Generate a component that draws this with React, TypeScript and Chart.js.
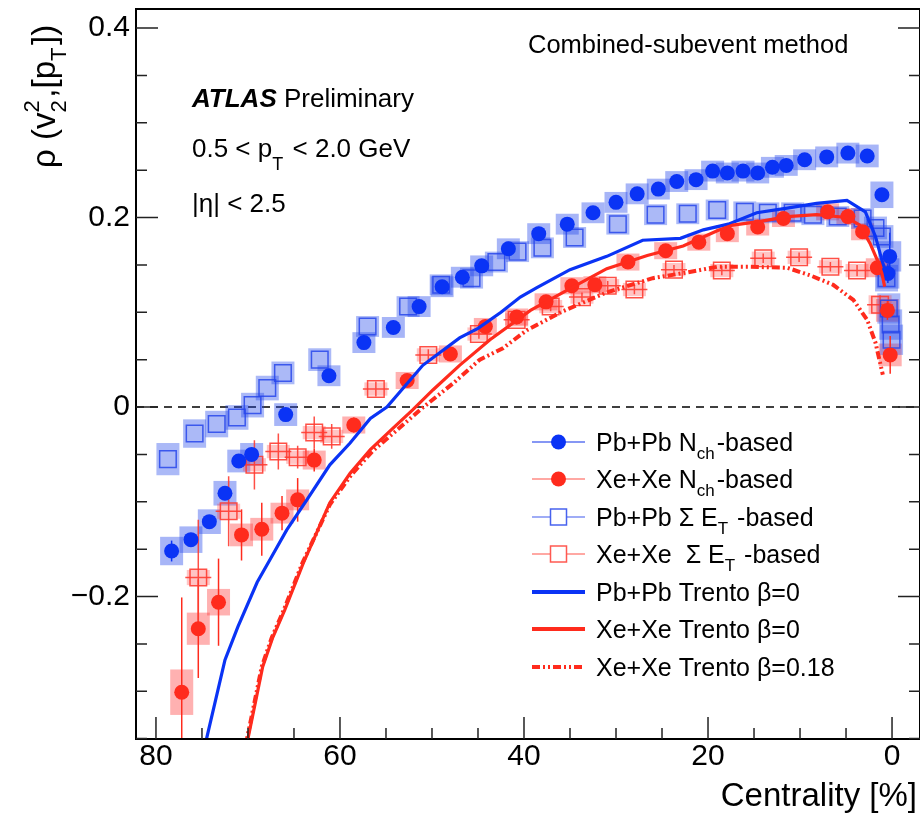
import React, { useEffect, useRef } from "react";
import { Chart, registerables } from "chart.js";
Chart.register(...registerables);

const FONT = '"Liberation Sans", Arial, Helvetica, sans-serif';
const BLUE = "#0a33f5";
const RED = "#ff2b1d";

// ---------------- data (centrality %, rho) ----------------
const pbNchX = [78.3, 76.2, 74.2, 72.5, 71.0, 69.6, 65.9, 61.2, 57.4, 54.2, 51.4, 48.9, 46.7, 44.6, 41.7, 38.4, 35.3, 32.5, 30.0, 27.7, 25.4, 23.4, 21.3, 19.5, 17.9, 16.2, 14.6, 13.0, 11.5, 9.5, 7.1, 4.8, 2.7, 1.1, 0.25, 0.45];
const pbNchY = [-0.152, -0.140, -0.121, -0.091, -0.057, -0.050, -0.008, 0.033, 0.068, 0.084, 0.106, 0.127, 0.137, 0.149, 0.167, 0.183, 0.193, 0.205, 0.216, 0.225, 0.230, 0.238, 0.240, 0.249, 0.247, 0.249, 0.247, 0.253, 0.255, 0.261, 0.264, 0.268, 0.265, 0.224, 0.159, 0.141];
const pbNchSys = [0.015, 0.014, 0.013, 0.013, 0.012, 0.012, 0.012, 0.011, 0.011, 0.011, 0.011, 0.011, 0.011, 0.011, 0.011, 0.011, 0.011, 0.011, 0.011, 0.011, 0.011, 0.011, 0.011, 0.011, 0.011, 0.011, 0.011, 0.011, 0.011, 0.011, 0.011, 0.011, 0.012, 0.014, 0.016, 0.016];
const pbNchStat = [0.011, 0.006, 0.004, 0.004, 0.003, 0.003, 0.003, 0.002, 0.002, 0.002, 0.002, 0.002, 0.002, 0.002, 0.002, 0.002, 0.002, 0.002, 0.002, 0.002, 0.002, 0.002, 0.002, 0.002, 0.002, 0.002, 0.002, 0.002, 0.002, 0.002, 0.002, 0.003, 0.004, 0.006, 0.025, 0.01];

const xeNchX = [77.2, 75.4, 73.2, 70.7, 68.5, 66.3, 64.6, 62.8, 58.5, 52.7, 48.0, 44.2, 40.8, 37.6, 34.8, 32.3, 28.7, 24.6, 21.0, 17.9, 14.6, 11.8, 7.0, 4.8, 3.2, 1.6, 0.5, 0.2];
const xeNchY = [-0.301, -0.234, -0.206, -0.135, -0.129, -0.112, -0.098, -0.056, -0.019, 0.028, 0.056, 0.085, 0.095, 0.111, 0.128, 0.129, 0.153, 0.165, 0.174, 0.183, 0.190, 0.199, 0.206, 0.201, 0.185, 0.147, 0.102, 0.055];
const xeNchSys = [0.024, 0.017, 0.014, 0.012, 0.012, 0.011, 0.011, 0.01, 0.009, 0.009, 0.009, 0.009, 0.009, 0.009, 0.009, 0.009, 0.009, 0.009, 0.009, 0.009, 0.009, 0.009, 0.009, 0.009, 0.009, 0.01, 0.012, 0.012];
const xeNchStat = [0.10, 0.052, 0.046, 0.027, 0.028, 0.018, 0.023, 0.012, 0.008, 0.005, 0.004, 0.004, 0.004, 0.004, 0.004, 0.004, 0.004, 0.004, 0.004, 0.004, 0.004, 0.004, 0.004, 0.005, 0.006, 0.008, 0.01, 0.02];

const pbEtX = [78.7, 75.8, 73.4, 71.2, 69.5, 67.9, 66.2, 62.2, 57.0, 52.6, 49.0, 45.7, 43.0, 40.7, 38.0, 34.5, 29.8, 25.7, 22.2, 19.0, 16.0, 13.5, 10.8, 8.6, 5.9, 3.2, 1.8, 1.1, 0.6, 0.35, 0.15, 0.05];
const pbEtY = [-0.055, -0.028, -0.018, -0.011, 0.002, 0.020, 0.036, 0.050, 0.085, 0.106, 0.129, 0.136, 0.153, 0.164, 0.168, 0.179, 0.193, 0.203, 0.204, 0.208, 0.206, 0.205, 0.205, 0.203, 0.201, 0.199, 0.189, 0.180, 0.136, 0.104, 0.087, 0.071];
const pbEtSys = [0.017, 0.015, 0.014, 0.013, 0.013, 0.013, 0.012, 0.012, 0.011, 0.011, 0.011, 0.011, 0.011, 0.011, 0.011, 0.011, 0.011, 0.011, 0.011, 0.011, 0.011, 0.011, 0.011, 0.011, 0.011, 0.011, 0.012, 0.012, 0.014, 0.016, 0.016, 0.016];

const xeEtX = [75.4, 72.1, 69.3, 66.7, 64.6, 62.8, 60.9, 56.1, 50.4, 44.9, 40.8, 37.1, 33.7, 30.9, 28.0, 23.7, 18.5, 14.0, 10.1, 6.7, 3.8, 1.3];
const xeEtY = [-0.180, -0.110, -0.061, -0.047, -0.053, -0.027, -0.031, 0.019, 0.055, 0.077, 0.092, 0.106, 0.116, 0.128, 0.124, 0.145, 0.144, 0.157, 0.158, 0.148, 0.144, 0.108];
const xeEtSys = [0.008, 0.008, 0.007, 0.007, 0.007, 0.007, 0.007, 0.007, 0.007, 0.007, 0.007, 0.007, 0.007, 0.007, 0.007, 0.007, 0.007, 0.007, 0.007, 0.007, 0.007, 0.01];
const xeEtStat = [0.061, 0.037, 0.026, 0.019, 0.012, 0.017, 0.013, 0.008, 0.006, 0.005, 0.005, 0.005, 0.005, 0.005, 0.005, 0.005, 0.005, 0.005, 0.005, 0.005, 0.006, 0.01];

const pbTrentoX = [75.6, 74.5, 72.5, 71.1, 69.0, 67.6, 65.8, 63.6, 61.1, 58.9, 56.7, 54.9, 51.0, 47.0, 45.0, 42.5, 40.4, 38.6, 35.0, 31.0, 27.1, 23.0, 20.5, 17.8, 14.7, 11.4, 8.2, 4.9, 2.9, 1.8, 1.1, 0.5];
const pbTrentoY = [-0.400, -0.350, -0.267, -0.232, -0.185, -0.161, -0.130, -0.098, -0.061, -0.038, -0.012, 0.000, 0.044, 0.073, 0.083, 0.100, 0.116, 0.126, 0.145, 0.159, 0.176, 0.178, 0.187, 0.193, 0.205, 0.210, 0.215, 0.218, 0.206, 0.180, 0.155, 0.137];

const xeTrentoX = [70.6, 70.0, 68.4, 67.3, 66.0, 64.0, 61.1, 58.9, 56.7, 54.2, 52.1, 49.9, 47.0, 43.7, 39.3, 35.0, 31.0, 26.6, 22.7, 19.0, 17.3, 14.3, 11.4, 8.2, 4.9, 3.5, 2.4, 1.6, 1.1, 0.8];
const xeTrentoY = [-0.400, -0.350, -0.274, -0.243, -0.214, -0.165, -0.101, -0.070, -0.045, -0.022, -0.003, 0.018, 0.044, 0.071, 0.102, 0.125, 0.146, 0.160, 0.170, 0.186, 0.192, 0.196, 0.201, 0.203, 0.200, 0.192, 0.173, 0.155, 0.141, 0.127];

const xeTrento18X = [70.7, 70.1, 68.5, 67.4, 66.1, 64.1, 61.1, 58.8, 56.5, 54.0, 51.3, 47.7, 44.8, 42.3, 39.7, 35.8, 31.0, 26.0, 22.3, 19.0, 15.4, 11.4, 8.9, 6.4, 4.2, 2.7, 1.8, 1.0];
const xeTrento18Y = [-0.400, -0.350, -0.274, -0.243, -0.214, -0.165, -0.103, -0.072, -0.047, -0.026, -0.003, 0.025, 0.050, 0.062, 0.081, 0.101, 0.121, 0.136, 0.142, 0.148, 0.148, 0.147, 0.139, 0.129, 0.113, 0.092, 0.068, 0.034];

const xTickLabels = [80, 60, 40, 20, 0];
const yTickLabels = [-0.2, 0, 0.2, 0.4];
const legendLabels = [
  "Pb+Pb N_{ch}-based",
  "Xe+Xe N_{ch}-based",
  "Pb+Pb Σ E_{T} -based",
  "Xe+Xe  Σ E_{T} -based",
  "Pb+Pb Trento β=0",
  "Xe+Xe Trento β=0",
  "Xe+Xe Trento β=0.18",
];
const xTitle = "Centrality [%]";
const yTitle = "ρ (v_{2}^{2},[p_{T}])";

// ---------------- helpers ----------------
const pts = (xs: number[], ys: number[]) => xs.map((x, i) => ({ x, y: ys[i] }));

function drawRich(ctx: CanvasRenderingContext2D, text: string, x: number, y: number, size: number, subDy = 0.3, supDy = 0.45, weight = "") {
  const tokens: { t: string; s: string }[] = [];
  let i = 0;
  let buf = "";
  while (i < text.length) {
    const c = text[i];
    if ((c === "_" || c === "^") && text[i + 1] === "{") {
      if (buf) { tokens.push({ t: "n", s: buf }); buf = ""; }
      const end = text.indexOf("}", i + 2);
      tokens.push({ t: c === "_" ? "sub" : "sup", s: text.slice(i + 2, end) });
      i = end + 1;
    } else { buf += c; i++; }
  }
  if (buf) tokens.push({ t: "n", s: buf });
  let cx = x;
  const small = Math.round(size * 0.68);
  for (let k = 0; k < tokens.length; k++) {
    const tk = tokens[k];
    if (tk.t === "n") {
      ctx.font = `${weight}${size}px ${FONT}`;
      ctx.fillText(tk.s, cx, y);
      cx += ctx.measureText(tk.s).width;
    } else {
      ctx.font = `${small}px ${FONT}`;
      const dy = tk.t === "sub" ? size * subDy : -size * supDy;
      ctx.fillText(tk.s, cx, y + dy);
      let w = ctx.measureText(tk.s).width;
      const nx = tokens[k + 1];
      if (tk.t === "sub" && nx && nx.t === "sup") {
        ctx.fillText(nx.s, cx, y - size * supDy);
        w = Math.max(w, ctx.measureText(nx.s).width);
        k++;
      }
      cx += w + size * 0.08;
    }
  }
  return cx;
}

const decorPlugin = {
  id: "decor",
  beforeDatasetsDraw(chart: any) {
    const { ctx, chartArea: a, scales } = chart;
    const xs = scales.x, ys = scales.y;
    ctx.save();
    ctx.beginPath();
    ctx.rect(a.left, a.top, a.right - a.left, a.bottom - a.top);
    ctx.clip();
    // zero line
    ctx.strokeStyle = "#000";
    ctx.lineWidth = 1.5;
    ctx.setLineDash([8, 6]);
    ctx.beginPath();
    const y0 = ys.getPixelForValue(0);
    ctx.moveTo(a.left, y0);
    ctx.lineTo(a.right, y0);
    ctx.stroke();
    ctx.setLineDash([]);
    // systematic boxes
    chart.data.datasets.forEach((ds: any) => {
      if (!ds.sys) return;
      ctx.fillStyle = ds.sysColor;
      ds.data.forEach((p: any, i: number) => {
        const px = xs.getPixelForValue(p.x);
        const top = ys.getPixelForValue(p.y + ds.sys[i]);
        const bot = ys.getPixelForValue(p.y - ds.sys[i]);
        ctx.fillRect(px - 11.5, top, 23, bot - top);
      });
    });
    // statistical error bars
    chart.data.datasets.forEach((ds: any) => {
      if (!ds.stat) return;
      ctx.strokeStyle = ds.statColor;
      ctx.lineWidth = 1.5;
      ds.data.forEach((p: any, i: number) => {
        const px = xs.getPixelForValue(p.x);
        const py = ys.getPixelForValue(p.y);
        const top = ys.getPixelForValue(p.y + ds.stat[i]);
        const bot = ys.getPixelForValue(p.y - ds.stat[i]);
        ctx.beginPath();
        ctx.moveTo(px, top);
        ctx.lineTo(px, bot);
        if (ds.xbar) {
          ctx.moveTo(px - 13, py);
          ctx.lineTo(px + 13, py);
        }
        ctx.stroke();
      });
    });
    ctx.restore();
  },
  afterDraw(chart: any) {
    const { ctx, chartArea: a, scales } = chart;
    const xs = scales.x, ys = scales.y;
    ctx.save();
    // frame
    ctx.strokeStyle = "#000";
    ctx.lineWidth = 2;
    ctx.strokeRect(a.left, a.top, a.right - a.left, a.bottom - a.top);
    // ticks
    ctx.lineWidth = 1.5;
    ctx.strokeStyle = "#222";
    ctx.beginPath();
    for (let v = 0; v <= 80; v += 5) {
      const px = xs.getPixelForValue(v);
      const len = v % 20 === 0 ? 22 : 11;
      ctx.moveTo(px, a.bottom);
      ctx.lineTo(px, a.bottom - len);
    }
    for (let k = -7; k <= 8; k++) {
      const v = k * 0.05;
      const py = ys.getPixelForValue(v);
      if (py < a.top || py > a.bottom) continue;
      const len = k % 4 === 0 ? 22 : 11;
      ctx.moveTo(a.left, py);
      ctx.lineTo(a.left + len, py);
      ctx.moveTo(a.right, py);
      ctx.lineTo(a.right - len, py);
    }
    ctx.stroke();

    ctx.fillStyle = "#000";
    ctx.textBaseline = "alphabetic";
    ctx.textAlign = "left";
    // annotations
    ctx.font = `25.5px ${FONT}`;
    ctx.fillText("Combined-subevent method", 528, 53);
    ctx.font = `italic bold 26px ${FONT}`;
    ctx.fillText("ATLAS", 192, 107);
    const w = ctx.measureText("ATLAS").width;
    ctx.font = `26px ${FONT}`;
    ctx.fillText(" Preliminary", 192 + w, 107);
    drawRich(ctx, "0.5 < p_{T} < 2.0 GeV", 192, 157, 26, 0.5);
    ctx.font = `26px ${FONT}`;
    ctx.fillText("|η| < 2.5", 192, 212);

    // axis titles
    ctx.font = `33px ${FONT}`;
    ctx.textAlign = "right";
    ctx.fillText(xTitle, 917, 806);
    ctx.textAlign = "left";
    ctx.save();
    ctx.translate(55, 168);
    ctx.rotate(-Math.PI / 2);
    drawRich(ctx, yTitle, 0, 0, 33, 0.32, 0.5);
    ctx.restore();

    // legend
    const rows = [442, 479, 517, 554, 592, 629, 667];
    const styles = [
      { kind: "circle", c: BLUE, l: "rgba(40,70,235,0.75)" },
      { kind: "circle", c: RED, l: "rgba(255,60,50,0.6)" },
      { kind: "square", c: "rgba(40,70,235,0.85)", l: "rgba(40,70,235,0.6)" },
      { kind: "square", c: "rgba(255,60,50,0.85)", l: "rgba(255,60,50,0.6)" },
      { kind: "line", c: BLUE },
      { kind: "line", c: RED },
      { kind: "dash", c: RED },
    ];
    legendLabels.forEach((lab, i) => {
      const y = rows[i];
      const st: any = styles[i];
      ctx.save();
      if (st.kind === "line" || st.kind === "dash") {
        ctx.strokeStyle = st.c;
        ctx.lineWidth = 4;
        if (st.kind === "dash") ctx.setLineDash([8, 3, 2, 3, 2, 3]);
        ctx.beginPath();
        ctx.moveTo(532, y);
        ctx.lineTo(585, y);
        ctx.stroke();
      } else {
        ctx.strokeStyle = st.l;
        ctx.lineWidth = 1.5;
        ctx.beginPath();
        ctx.moveTo(532, y);
        ctx.lineTo(585, y);
        ctx.stroke();
        if (st.kind === "circle") {
          ctx.fillStyle = st.c;
          ctx.beginPath();
          ctx.arc(558.5, y, 7.5, 0, Math.PI * 2);
          ctx.fill();
        } else {
          ctx.strokeStyle = st.c;
          ctx.fillStyle = "#fff";
          ctx.fillRect(550, y - 8, 17, 16);
          ctx.strokeRect(550.5, y - 8, 16, 16);
        }
      }
      ctx.restore();
      ctx.fillStyle = "#000";
      drawRich(ctx, lab, 596, y + 9, 25, 0.32);
    });
    ctx.restore();
  },
};

const noPad = (s: any) => {
  s.paddingTop = 0;
  s.paddingBottom = 0;
  s.paddingLeft = 0;
  s.paddingRight = 0;
};

export default function App() {
  const ref = useRef<HTMLCanvasElement | null>(null);
  useEffect(() => {
    if (!ref.current) return;
    const chart = new Chart(ref.current, {
      type: "scatter",
      data: {
        datasets: [
          { label: legendLabels[6], data: pts(xeTrento18X, xeTrento18Y), showLine: true, borderColor: RED, borderWidth: 4, borderDash: [8, 3, 2, 3, 2, 3], pointRadius: 0, tension: 0, order: 0 } as any,
          { label: legendLabels[5], data: pts(xeTrentoX, xeTrentoY), showLine: true, borderColor: RED, borderWidth: 3.2, pointRadius: 0, tension: 0, order: 1 },
          { label: legendLabels[4], data: pts(pbTrentoX, pbTrentoY), showLine: true, borderColor: BLUE, borderWidth: 3.2, pointRadius: 0, tension: 0, order: 2 },
          { label: legendLabels[0], data: pts(pbNchX, pbNchY), pointRadius: 7.5, pointStyle: "circle", backgroundColor: BLUE, borderColor: BLUE, borderWidth: 0, order: 3, sys: pbNchSys, sysColor: "rgba(35,70,235,0.4)", stat: pbNchStat, statColor: BLUE },
          { label: legendLabels[1], data: pts(xeNchX, xeNchY), pointRadius: 7.5, pointStyle: "circle", backgroundColor: RED, borderColor: RED, borderWidth: 0, order: 4, sys: xeNchSys, sysColor: "rgba(255,60,60,0.4)", stat: xeNchStat, statColor: RED },
          { label: legendLabels[2], data: pts(pbEtX, pbEtY), pointRadius: 11.7, pointStyle: "rect", backgroundColor: "rgba(0,0,0,0)", borderColor: "rgba(40,70,235,0.85)", borderWidth: 1.5, order: 5, sys: pbEtSys, sysColor: "rgba(35,70,235,0.38)" },
          { label: legendLabels[3], data: pts(xeEtX, xeEtY), pointRadius: 11.7, pointStyle: "rect", backgroundColor: "rgba(0,0,0,0)", borderColor: "rgba(255,60,50,0.9)", borderWidth: 1.5, order: 6, sys: xeEtSys, sysColor: "rgba(255,60,60,0.3)", stat: xeEtStat, statColor: "rgba(255,60,50,0.9)", xbar: true },
        ] as any,
      },
      options: {
        animation: false,
        responsive: false,
        devicePixelRatio: 1,
        layout: { autoPadding: false, padding: { top: 9, left: 0, right: 0, bottom: 0 } },
        plugins: { legend: { display: false }, tooltip: { enabled: false } },
        events: [],
        scales: {
          x: {
            type: "linear",
            reverse: true,
            min: -3.04,
            max: 82.17,
            grid: { display: false, drawTicks: false },
            border: { display: false },
            ticks: { font: { size: 30, family: FONT }, color: "#000", padding: 0, maxRotation: 0, autoSkip: false, callback: (v: any) => String(v) },
            afterBuildTicks: (s: any) => { s.ticks = xTickLabels.map((v) => ({ value: v })); },
            afterFit: (s: any) => { s.height = 80; noPad(s); },
          },
          y: {
            type: "linear",
            min: -0.3504,
            max: 0.4201,
            grid: { display: false, drawTicks: false },
            border: { display: false },
            ticks: {
              font: { size: 30, family: FONT }, color: "#000", padding: 6, autoSkip: false,
              callback: (v: any) => (v === 0 ? "0" : v < 0 ? "\u2212" + Math.abs(v).toFixed(1) : Number(v).toFixed(1)),
            },
            afterBuildTicks: (s: any) => { s.ticks = yTickLabels.map((v) => ({ value: v })); },
            afterFit: (s: any) => { s.width = 136; noPad(s); },
          },
        },
      } as any,
      plugins: [decorPlugin],
    });
    return () => chart.destroy();
  }, []);
  return (
    <div style={{ position: "absolute", left: 0, top: 0, width: 920, height: 819, background: "#fff" }}>
      <canvas ref={ref} width={920} height={819} style={{ display: "block", width: 920, height: 819 }} />
    </div>
  );
}
